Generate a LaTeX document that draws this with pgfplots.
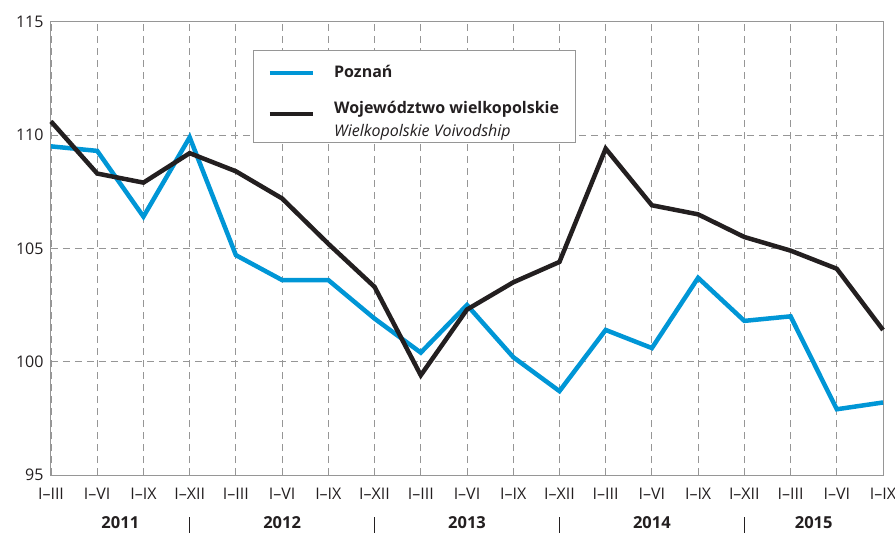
\documentclass[border=0pt]{standalone}
\usepackage{pgfplots}
\pgfplotsset{compat=1.18}
\usepackage{fontspec}
\setmainfont{Open Sans}
\definecolor{pblue}{RGB}{0,150,214}
\definecolor{pblack}{RGB}{35,31,32}
\definecolor{gridgray}{RGB}{150,150,150}

\begin{document}
\fontsize{16bp}{19bp}\selectfont
\begin{tikzpicture}
\begin{axis}[
  scale only axis, width=832bp, height=453.3bp,
  xmin=0, xmax=18, ymin=95, ymax=115,
  xtick={0,...,18},
  xticklabels={I–III,I–VI,I–IX,I–XII,I–III,I–VI,I–IX,I–XII,I–III,I–VI,I–IX,I–XII,I–III,I–VI,I–IX,I–XII,I–III,I–VI,I–IX},
  ytick={95,100,...,115},
  axis line style={gridgray, line width=1bp},
  grid=major,
  major grid style={gridgray, line width=0.9bp, dash pattern=on 7bp off 5bp},
  tick style={draw=none},
  /pgf/number format/assume math mode=true,
  tick label style={font=\fontsize{16bp}{19bp}\selectfont, text=pblack},
  xticklabel style={yshift=-8bp},
  yticklabel style={xshift=-2bp},
  clip=false,
  legend cell align=left,
  legend image code/.code={\draw[#1, line width=4.5bp] (0bp,0bp) -- (43bp,0bp);},
  legend style={at={(rel axis cs:0.243,0.9376)}, anchor=north west,
    draw=gridgray, line width=1bp, inner xsep=14bp, inner ysep=13bp,
    row sep=16bp, font=\fontsize{16bp}{19bp}\selectfont, text=pblack,
    /tikz/every odd column/.append style={column sep=17bp}},
]
\addplot[pblue, line width=4.5bp] coordinates {
  (0,109.5) (1,109.3) (2,106.4) (3,109.9) (4,104.7) (5,103.6) (6,103.6)
  (7,101.9) (8,100.4) (9,102.5) (10,100.2) (11,98.7) (12,101.4) (13,100.6)
  (14,103.7) (15,101.8) (16,102.0) (17,97.9) (18,98.2)
};
\addlegendentry{\textbf{Poznań}}
\addplot[pblack, line width=4.5bp] coordinates {
  (0,110.6) (1,108.3) (2,107.9) (3,109.2) (4,108.4) (5,107.2) (6,105.2)
  (7,103.3) (8,99.4) (9,102.3) (10,103.5) (11,104.4) (12,109.4) (13,106.9)
  (14,106.5) (15,105.5) (16,104.9) (17,104.1) (18,101.4)
};
\addlegendentry{\begin{tabular}{@{}l@{}}\textbf{Województwo wielkopolskie}\\[4bp]\textit{Wielkopolskie Voivodship}\rule[-6bp]{0pt}{6bp}\end{tabular}}

\coordinate (A) at (rel axis cs:0,0);
\coordinate (B) at (rel axis cs:1,1);
% year separators below the tick labels
\draw[pblack, line width=0.8bp] ([yshift=-42bp]axis cs:3,95) -- ([yshift=-60bp]axis cs:3,95);
\draw[pblack, line width=0.8bp] ([yshift=-42bp]axis cs:7,95) -- ([yshift=-60bp]axis cs:7,95);
\draw[pblack, line width=0.8bp] ([yshift=-42bp]axis cs:11,95) -- ([yshift=-60bp]axis cs:11,95);
\draw[pblack, line width=0.8bp] ([yshift=-42bp]axis cs:15,95) -- ([yshift=-60bp]axis cs:15,95);
\tikzset{yr/.style={text=pblack, inner sep=0pt, anchor=base, font=\fontsize{16.5bp}{19bp}\selectfont\bfseries}}
\node[yr] at ([yshift=-53bp]axis cs:1.5,95) {2011};
\node[yr] at ([yshift=-53bp]axis cs:5,95) {2012};
\node[yr] at ([yshift=-53bp]axis cs:9,95) {2013};
\node[yr] at ([yshift=-53bp]axis cs:13,95) {2014};
\node[yr] at ([yshift=-53bp]axis cs:16.5,95) {2015};
\end{axis}
\pgfresetboundingbox
\path ([shift={(-51bp,-58bp)}]A) rectangle ([shift={(12bp,21.7bp)}]B);
\end{tikzpicture}
\end{document}
